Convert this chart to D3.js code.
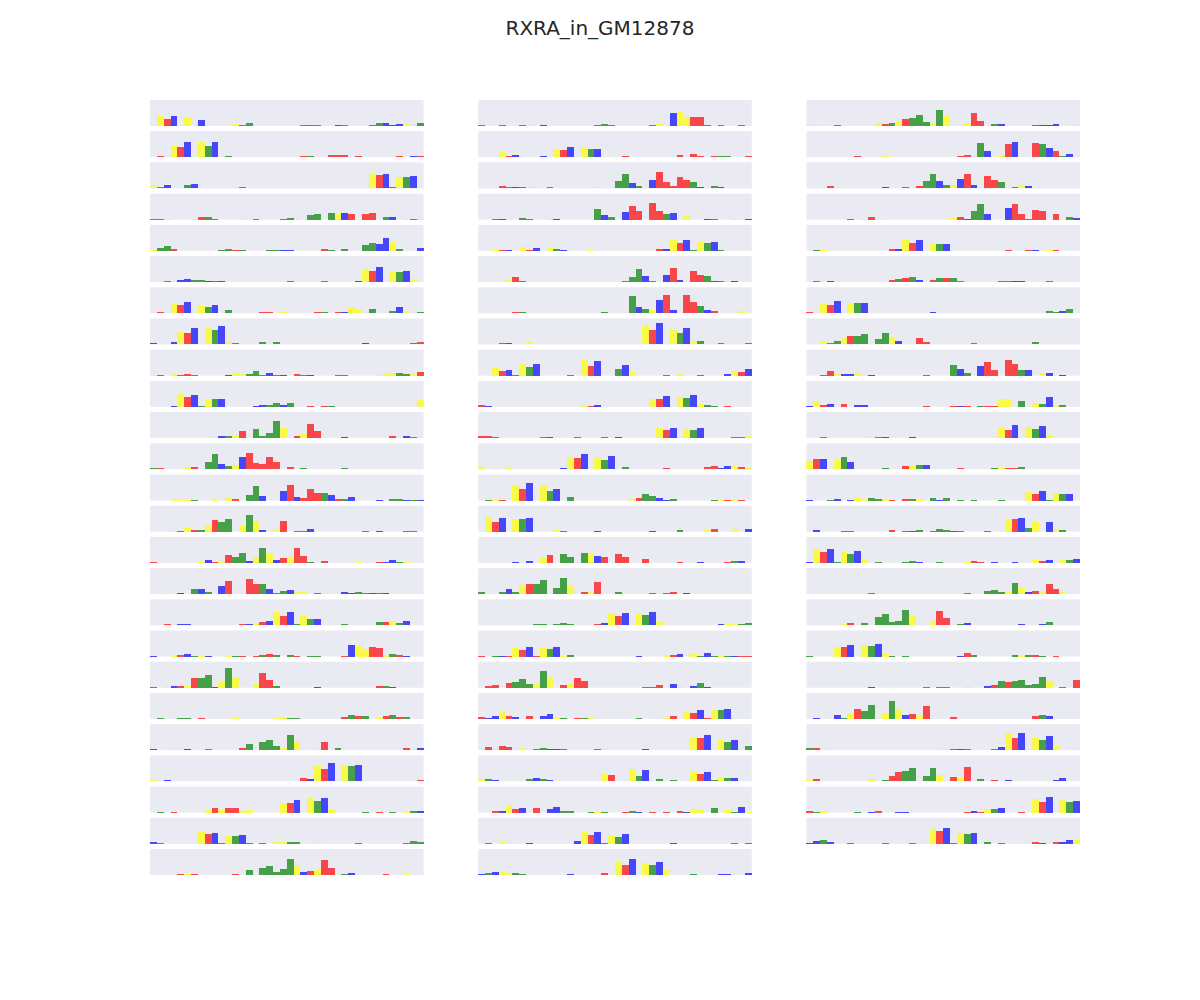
<!DOCTYPE html>
<html>
<head>
<meta charset="utf-8">
<script src="https://cdn.jsdelivr.net/npm/d3@7"></script>
<style>
  html, body { margin: 0; padding: 0; background: #ffffff; }
  svg { display: block; }
</style>
</head>
<body>
<div id="chart"></div>
<script>
// ---------------- DATA ----------------
const title = "RXRA_in_GM12878";
const positions = d3.range(40);
const baseColors = { A: "green", C: "blue", G: "yellow", T: "red" };

// column 1 (25 motifs): base per position ('.' = none) and height
const col1Bases = [
  ".GTC.G.C....GAA.......AAT..CT...AACCCGGA",
  ".T.GTC.GAC.A..........TA..TTT.T.....T.CT",
  "GTC..AC.....GT..................GTCAGAC.",
  "AAG...GTAT...G.A...TAG.AA.AGCT.TT.AC.GAG",
  "GAAT......AATA...AACC....TA.A..AACCGA..C",
  "..T.CCAACAC.........A....T....CGTC.GACG.",
  ".T.GTC.GAC.A....TT.G....TA.TCGG.A..ACG.A",
  "C..CGTC.GACGA...A.A............C......AT",
  "GA.GTTT....CGGAAACAC.TTC...TA....GGGAAGT",
  "...CGTCAGAC....CCAACA..T.TA............G",
  ".........GCAGT.AAAAG.TGTT...C......TGCAG",
  "AT...GT.AACAGCTTTTT.T.A.....A...........",
  "...GGGA..G.GT.AAC..CTCTTTACTAC...C.AACAC",
  "...GAGTAGTAA.GAGC.GT.AAC.......T.C...AA.",
  "T......GCTGTAACGAGCTGTTA.T....G..TCCAG..",
  "..G.C.ACA.CT..TTACTACGG.A...CCAACAC.....",
  "..T.CC.......TCGTCGTCAGAC...A....ATGAC..",
  "C..GTCAGC..GAT.TATA.AT.AA...TCGGTTGATC..",
  "A.GCTGTAACGAG..GTTA.....C........TAC....",
  ".A..AA.T....G.....GGAA......TATA.GTATA..",
  "C..G.C..A....TA.AAAGAG..GT.A.........TGC",
  "G.C...................TCGTC.GAC........T",
  ".A.T....GTGTTGG....GTC.GACG....A.T.A.GAC",
  "CT.....GTCAGACA.A.GGAA..G.....T......TAA",
  "....TGT.....T.A.AAAAAGCTGTT.AC....T..G.."
];
const col1Heights = [
  [0,10,7,10,0,9,0,6,0,0, 0,0,2,1,3,0,0,0,0,0, 0,0,1,1,1,0,0,1,1,0, 0,0,1,3,3,1,2,3,1,3],
  [0,1,0,11,10,15,0,15,11,15, 0,1,0,0,0,0,0,0,0,0, 0,0,1,1,0,0,2,2,2,0, 1,0,0,0,0,0,1,0,1,1],
  [3,1,3,0,0,3,4,0,0,0, 0,0,1.5,1.5,0,0,0,0,0,0, 0,0,0,0,0,0,0,0,0,0, 0,0,14,13,14,1,11,11,12,0],
  [1,1,1,0,0,0,1,3,3,1, 0,0,0,1,0,1,0,0,0,1, 2,1,0,5,6,0,7,6,7,6, 0,6,7,0,3,3,0,1,1,1],
  [2,3,5,2,0,0,0,0,0,0, 1,2,1,1,0,0,0,1,1,1, 1,0,0,0,0,2,1,0,2,0, 0,6,8,7,13,9,2,0,0,3],
  [0,0,1,0,2,3,2,2,1,1, 1,0,0,0,0,0,0,0,0,0, 1,0,0,0,0,1,0,0,0,0, 1,13,11,15,0,10,10,11,3,0],
  [0,1,0,9,8,11,0,7,6,8, 0,3,0,0,0,0,1,1,0,1, 0,0,0,0,1,1,0,1,1,6, 4,0,4,0,0,2,6,2,0,1],
  [1,0,0,2,12,11,16,0,16,14, 18,3,1,0,0,0,2,0,2,0, 0,0,0,0,0,0,0,0,0,0, 0,1,0,0,0,0,0,0,1,2],
  [1,1,0,3,1,2,1,0,0,0, 0,1,3,2,2,5,1,3,1,1, 0,2,1,1,0,0,0,1,1,0, 0,0,0,1,3,3,3,2,3,4],
  [0,0,0,1,13,10,12,1,8,8, 8,0,0,0,0,1,2,2,4,2, 4,0,0,1,0,1,1,0,0,0, 0,0,0,0,0,0,0,0,0,7],
  [0,0,0,0,0,0,0,0,0,1, 2,2,3,7,0,9,2,5,17,10, 0,2,4,14,7,0,0,0,1,0, 0,0,0,0,0,2,1,2,1,1],
  [1,1,0,0,0,2,2,0,7,15, 5,3,4,12,16,6,5,12,7,0, 2,0,1,0,0,0,0,0,1,0, 0,0,0,0,0,0,0,0,0,0],
  [0,0,0,1,1,1,1,0,0,1, 0,3,2,0,6,14,5,0,0,10, 15,4,3,12,8,8,6,2,2,4, 0,0,0,1,0,2,2,1,1,1],
  [0,0,0,1,1,4,2,2,6,12, 10,13,0,6,17,11,2,0,3,11, 0,1,1,3,0,0,0,0,0,0, 0,1,0,1,0,0,0,1,1,0],
  [1,0,0,0,0,0,0,2,3,1, 2,8,6,10,2,5,15,10,3,5, 6,15,7,1,0,2,0,0,0,0, 1,0,0,1,1,3,1,1,0,0],
  [0,0,1,0,1,0,5,5,2,0, 8,13,0,0,15,10,10,5,1,3, 4,3,2,0,1,0,0,0,2,1, 2,1,1,1,1,0,0,0,0,0],
  [0,0,1,0,1,1,0,0,0,0, 0,0,0,1,1,2,3,4,13,9, 13,1,9,6,6,0,0,0,1,0, 0,0,0,3,3,4,2,4,0,0],
  [1,0,0,2,2,3,1,1,1,0, 0,1,1,1,0,1,2,3,2,0, 2,1,0,1,1,0,0,0,1,12, 12,8,10,9,2,3,2,1,0,0],
  [1,0,1,2,2,2,10,10,13,1, 6,20,11,0,0,4,15,8,2,0, 0,0,0,0,1,0,0,0,0,0, 0,0,0,2,2,1,0,0,0,0],
  [0,1,0,0,1,1,0,1,0,0, 0,0,1,0,0,0,0,0,1,2, 1,1,0,0,0,0,0,0,2,4, 3,3,0,2,3,4,2,2,0,0],
  [1,0,0,1,0,1,0,0,1,0, 0,0,0,2,6,0,8,10,4,2, 15,9,0,0,1,8,0,2,0,0, 0,0,0,0,0,0,0,2,1,2],
  [1,0,1,0,0,0,0,0,0,0, 0,0,0,0,0,0,0,0,0,0, 0,0,3,2,15,12,18,0,15,15, 16,0,0,0,0,0,0,0,0,1],
  [0,1,0,1,0,0,0,0,3,5, 3,5,5,2,3,0,0,0,0,10, 10,13,0,15,12,15,3,0,0,0, 0,1,0,1,0,1,0,1,2,2],
  [2,1,0,0,0,0,0,12,10,11, 1,8,8,9,1,0,1,0,2,2, 2,2,0,0,1,0,0,0,0,0, 1,0,0,0,0,0,0,1,3,2],
  [0,0,0,0,1,1,1,0,0,0, 0,0,1,0,5,0,7,9,3,6, 16,10,3,4,5,15,7,0,1,2, 0,0,0,0,1,0,0,1,0,0]
];

// column 2 (25 motifs)
const col2Bases = [
  "T..A..TG.C.......TAT.....AG.CGGTTA.T..T.",
  "...GTC...C.GTC.GAC...T.......T.TT.TAA..T",
  "...TACTGG.A......G..AACA.CTTTTTAC.AC....",
  "..ACG.AA..GC.....ACA.CTT.TTAC.G..CT..G.C",
  "..GTC.GTC.GAC...G.........TCGTCAGACA....",
  "....GTA........G.....TAACT.CTCGTTACAGC..",
  ".....TA...........A...ACAGCTC.TTACT...G.",
  "...AC..G................GTC.GACGA..T...A",
  "..GTCTGAC....T.GTC..ACG....A.G..T...CGTC",
  "TC.............GTC.......GTC.GACGAA.T...",
  "TTA......AC...A...T.C.....GTC.GAC....TAG",
  "G...G.......CGTC.GAC.A.....T.....TTCCGTG",
  ".AGT.GTC.GAC.A........GTAACCA.....AGTGT.",
  ".GTC.GAC...GA....C.......C...A...GT..G.C",
  ".....C.C.GT.AA.AGCT.TT..T....T..C...TAC.",
  "AG.ACAGTAA.AAG.TGT..A....T.TT.C.........",
  "........AA.AAA...TCGTC.GACG........CGGAA",
  "T.ACTGTCTGACGA.........C...GTC.GACAGACTT",
  ".TT.TAAAGAG.TGTT........TTT.CG.CAC......",
  "TCCGTC.T.CCGA.TAG......A...GT.GTCTGAC...",
  ".TGTT.G.AACCT....AG.....C......GTC.GAC.A",
  "GAC....ACAC.......GT..GAC.A.A..GTCAGAC..",
  "..TCGTC.T.CCAA..AGA..TAC.T.T.TCGG.A.GACG",
  ".T.G...C......CGTCAGAC......C........A.A",
  "CACGGAA......C....T.GTC.GACG...A...CC..C"
];
const col2Heights = [
  [1,0,0,1,0,0,1,1,0,1, 0,0,0,0,0,0,0,1,2,1, 0,0,0,0,0,1,2,0,13,14, 9,9,9,1,0,1,0,0,1,0],
  [0,0,0,5,1,2,0,0,0,1, 0,8,7,10,0,9,8,8,0,0, 0,1,0,0,0,0,0,0,0,2, 0,3,1,0,1,1,1,0,0,1],
  [0,0,0,2,1,1,1,1,1,0, 1,0,0,0,0,0,0,1,0,0, 7,14,5,2,0,8,16,6,2,11, 8,6,1,0,2,1,0,0,0,0],
  [0,0,1,1,1,0,2,1,0,0, 1,1,0,0,0,0,0,11,5,3, 0,8,14,9,0,17,9,6,7,0, 5,0,0,1,1,0,0,1,0,1],
  [0,0,1,1,1,0,4,1,3,0, 3,2,1,0,0,0,1,0,0,0, 0,0,0,0,0,0,2,2,12,8, 11,1,9,8,9,1,0,0,0,0],
  [0,0,0,0,2,5,1,0,0,0, 0,0,0,0,0,1,0,0,0,0, 0,1,5,13,6,1,0,7,14,2, 1,11,7,6,1,1,1,1,0,0],
  [0,0,0,0,0,1,1,0,0,0, 0,0,0,0,0,0,0,0,1,0, 0,0,17,6,4,3,13,18,3,0, 18,11,7,3,2,0,0,0,2,0],
  [0,0,0,1,1,0,0,2,0,0, 0,0,0,0,0,0,0,0,0,0, 0,0,0,0,19,14,21,0,14,11, 16,3,3,0,0,1,0,0,0,1],
  [0,0,8,5,6,1,12,9,12,0, 0,0,0,1,0,16,10,15,0,0, 7,11,4,0,0,0,0,1,0,2, 0,0,1,0,0,0,2,5,4,7],
  [2,1,0,0,0,0,0,0,0,0, 0,0,0,0,0,2,1,2,0,0, 0,0,0,0,0,8,8,11,0,10, 9,12,3,2,1,0,1,0,0,0],
  [2,2,1,0,0,0,0,0,0,1, 1,0,0,0,1,0,0,0,1,0, 1,0,0,0,0,0,10,8,10,0, 9,8,10,0,0,0,0,1,1,2],
  [2,0,0,0,1,0,0,0,0,0, 0,0,1,12,11,15,0,12,9,13, 0,2,0,0,0,0,0,1,0,0, 0,0,0,2,3,1,3,3,2,1],
  [0,1,1,1,0,15,12,17,0,14, 10,12,0,4,0,0,0,0,0,0, 0,0,2,3,7,5,3,1,2,0, 0,0,0,0,1,1,1,1,1,0],
  [0,14,10,14,0,13,13,14,0,0, 0,2,1,0,0,0,0,1,0,0, 0,0,0,0,0,1,0,0,0,2, 0,0,0,3,3,0,0,3,0,3],
  [0,0,0,0,0,1,0,2,0,5, 8,0,9,6,0,10,10,7,6,0, 9,6,0,0,4,0,0,0,0,1, 0,0,1,0,0,0,1,2,2,0],
  [2,1,0,2,5,2,9,10,10,14, 0,6,16,9,0,2,3,12,0,0, 2,0,0,0,0,1,0,1,2,0, 1,0,0,0,0,0,0,0,0,0],
  [0,0,0,0,0,0,0,0,1,1, 0,1,2,1,0,0,0,1,2,12, 9,12,0,11,10,13,3,0,0,0, 0,0,0,0,0,1,2,1,1,2],
  [1,0,1,1,1,9,7,10,1,9, 8,10,1,2,0,0,0,0,0,0, 0,0,0,1,0,0,0,2,2,3, 0,3,1,4,1,1,1,1,1,1],
  [0,2,3,0,5,6,9,4,4,17, 11,0,3,4,10,7,0,0,0,0, 0,0,0,0,1,1,3,0,4,1, 0,2,5,1,0,0,0,0,0,0],
  [2,1,3,8,3,2,0,3,0,3, 5,1,1,0,1,1,1,0,0,0, 0,0,0,1,0,0,0,1,3,0, 7,6,9,1,9,9,10,0,0,0],
  [0,3,1,4,3,0,2,0,1,2, 1,1,1,0,0,0,0,1,1,0, 0,0,0,0,1,0,0,0,0,0, 0,12,12,15,0,10,8,10,0,4],
  [2,2,1,0,0,0,0,2,3,2, 1,0,0,0,0,0,0,0,7,6, 0,0,12,5,11,0,2,0,1,0, 0,10,7,9,1,4,3,3,0,0],
  [0,0,2,2,8,4,5,0,5,0, 4,6,2,2,0,0,1,1,1,0, 0,1,2,1,0,1,0,1,0,2, 1,4,4,0,5,0,3,1,6,1],
  [0,1,0,2,0,0,0,1,0,0, 0,0,0,0,3,12,9,12,1,9, 7,10,0,0,0,0,0,0,1,0, 0,0,0,0,0,0,0,1,0,1],
  [1,2,3,3,1,2,1,0,0,0, 0,0,0,1,0,0,0,0,2,0, 13,10,16,0,12,10,13,5,0,0, 0,1,0,0,0,1,1,0,0,2]
];

// column 3 (24 motifs)
const col3Bases = [
  "G.G.T.....GTAGTAAAGAG..GTT.AC....TCCC..G",
  ".......T...G..........TT.AC.GTC.TTACTAC",
  "...TG......C..A.TAACAGCTCGTTA.AGC.......",
  "......T.GTG..........GTCAAC..CTTTTT.T.AC",
  ".AG.........TCGTC.GAC........T..TC.GT...",
  ".A.CG.......TATAC.TATAT.....TTCC...T....",
  "T.GTC.GAC.........C................AACA.",
  "..GTAGTAA.AAGC..TT......T........A......",
  "..ATGCCGGC.......A...ACA.CTT.TTAC.GC.C..",
  "CGTC.T.CC........T...TCT.ATTGG.A.GACGA..",
  "..A......GTC...C............GTC.GACG....",
  "GTC.GAC....A..TGAC....T....AGTTA........",
  "C..AC.CGGAAGT.TAG.ACA.A.A...A...GTCAGAC.",
  ".C...AT.....T.ACA.AAACA...A..GTCAG.CGA..",
  "CGTCAGACG.A...AAC..A...GTT.C..C..GTC.GAC",
  ".........A.............T..AAAGAGCTGTTG..",
  ".....GT.A.AAAAAG..GTT.AC.......C..CA....",
  "A...GTC.GACGA.A.......CTA.....AGATA.T...",
  ".........C.......T.TT..G..CTATAAAAAG.T.T",
  ".C..CAGTAA.GAGCTGT...T...........TAC....",
  "ATG.................GTCT...TCGTC.GACG..G",
  "GT.......G.ATTAA.AAG.TGT.A.T.C......CC..",
  "TAG....A.CT..CC........TCTGAC..T.GTC.GAC",
  "CCAC..A....A...AG.GTCAGAC.A.A...GTC.TCCG"
];
const col3Heights = [
  [1,0,1,0,1,0,0,0,0,0, 3,2,3,5,7,8,11,4,3,16, 10,0,0,3,13,5,0,2,2,0, 0,0,0,1,1,1,2,0,0,1],
  [0,0,0,0,0,0,0,1,0,0, 0,1,0,0,0,0,0,0,0,0, 0,0,1,2,0,14,6,0,2,13, 15,1,0,14,13,9,6,1,3,4],
  [0,0,0,2,1,0,0,0,0,0, 0,1,0,0,1,0,2,7,14,7, 3,3,9,14,3,1,12,8,6,0, 1,2,2,0,0,0,0,0,0,0],
  [0,0,0,0,0,0,1,0,1,3, 1,0,0,0,0,0,0,0,0,0, 0,2,3,1,9,16,6,0,0,12, 16,6,1,10,9,0,6,0,3,2],
  [0,1,1,0,0,0,0,0,0,0, 0,0,2,2,11,8,11,0,8,7, 7,0,0,0,0,0,0,0,0,1, 0,0,1,1,0,1,1,0,0,0],
  [0,1,0,1,1,0,0,0,0,0, 0,0,2,3,4,5,2,0,2,4, 4,4,1,0,0,0,0,0,1,1, 1,1,0,0,0,1,0,0,0,0],
  [1,0,9,8,12,0,10,10,10,0, 0,0,0,0,0,0,0,0,1,0, 0,0,0,0,0,0,0,0,0,0, 0,0,0,0,0,2,1,2,4,0],
  [0,0,2,1,3,6,8,8,10,0, 5,11,7,3,0,0,6,2,0,0, 0,0,0,0,1,0,0,0,0,0, 0,0,0,2,0,0,0,0,0,0],
  [0,0,1,5,2,2,2,3,1,1, 0,0,0,0,0,0,0,1,0,0, 0,11,7,3,0,10,14,6,0,16, 12,6,6,0,3,3,0,1,0,0],
  [1,6,2,3,0,3,0,2,2,0, 0,0,0,0,0,0,0,1,0,0, 0,1,1,1,0,1,1,1,8,8, 0,6,0,4,3,10,2,2,0,0],
  [0,0,1,0,0,0,0,0,0,1, 1,1,0,0,0,1,0,0,0,0, 0,0,0,0,0,0,0,0,11,8, 13,0,11,9,12,3,0,0,0,0],
  [8,10,10,0,9,12,7,0,0,0, 0,1,0,0,3,4,4,4,0,0, 0,0,1,0,0,0,0,1,1,1, 1,2,0,0,0,0,0,0,0,0],
  [1,0,0,1,2,0,1,3,1,3, 2,1,1,0,2,2,1,0,3,1, 3,0,1,0,1,0,0,0,1,0, 0,0,9,7,10,1,8,7,7,0],
  [0,2,0,0,0,1,1,0,0,0, 0,0,2,0,1,1,2,0,1,3, 2,1,1,0,0,0,1,0,0,13, 13,14,4,10,0,10,3,2,0,0],
  [1,13,11,14,1,11,9,12,3,0, 1,0,0,0,1,2,1,0,0,1, 0,0,0,1,2,1,0,1,0,0, 1,0,0,3,2,3,0,3,3,4],
  [0,0,0,0,0,0,0,0,0,1, 0,0,0,0,0,0,0,0,0,0, 0,0,0,1,0,0,3,4,2,2, 11,6,2,3,3,10,5,2,0,0],
  [0,0,0,0,0,1,2,0,2,0, 8,11,3,4,15,10,0,0,4,14, 7,0,1,2,0,0,0,0,0,0, 0,1,0,0,1,3,0,0,0,0],
  [1,0,0,0,10,10,12,0,12,11, 13,3,1,0,1,0,0,0,0,0, 0,0,1,4,2,0,0,0,0,0, 2,1,2,2,1,0,1,0,0,0],
  [0,0,0,0,0,0,0,0,0,1, 0,0,0,0,0,0,0,1,0,1, 1,0,0,1,0,0,2,3,7,6, 7,8,3,4,11,7,0,1,0,8],
  [0,1,0,0,4,1,6,10,8,14, 0,6,18,10,4,5,4,13,0,0, 0,2,0,0,0,0,0,0,0,0, 0,0,0,3,4,3,0,0,0,0],
  [2,2,1,0,0,0,0,0,0,0, 0,0,0,0,0,0,0,0,0,0, 1,1,1,1,0,0,0,1,3,17, 12,17,0,12,10,14,4,0,0,1],
  [1,2,0,0,0,0,0,0,0,2, 0,1,5,9,10,13,0,5,13,6, 0,4,3,14,0,2,0,1,0,1, 0,0,0,0,0,0,1,3,0,0],
  [2,1,2,0,0,0,0,1,0,1, 2,0,0,1,1,0,0,0,0,0, 0,0,0,1,2,1,4,4,5,0, 0,1,0,14,11,16,0,13,11,12],
  [1,3,4,2,0,0,1,0,0,0, 0,1,0,0,0,1,1,0,15,13, 16,1,11,10,11,0,2,0,1,0, 0,0,1,2,1,0,2,2,4,4]
];
const yMax = 26;

// ---------------- LAYOUT ----------------
const figW = 1200, figH = 1000;
const gridLeft = 150, gridRight = 1080, gridTop = 100, gridBottom = 875;
const nRows = 25, nCols = 3, wSpace = 0.2, hSpace = 0.2;
const panelW = (gridRight - gridLeft) / (nCols + (nCols - 1) * wSpace);
const panelH = (gridBottom - gridTop) / (nRows + (nRows - 1) * hSpace);

const svg = d3.select("#chart").append("svg")
  .attr("width", figW).attr("height", figH);

svg.append("text")
  .attr("x", figW / 2).attr("y", 35)
  .attr("text-anchor", "middle")
  .style("font-family", "'DejaVu Sans', sans-serif")
  .style("font-size", "20px")
  .style("fill", "#262626")
  .text(title);

const xScale = d3.scaleBand().domain(positions).range([0, panelW]).paddingInner(0).paddingOuter(0);
const yScale = d3.scaleLinear().domain([0, yMax]).range([panelH, 0]);

const columns = [
  { bases: col1Bases, heights: col1Heights },
  { bases: col2Bases, heights: col2Heights },
  { bases: col3Bases, heights: col3Heights }
];

columns.forEach((col, ci) => {
  const x0 = gridLeft + ci * panelW * (1 + wSpace);
  col.bases.forEach((seq, ri) => {
    const y0 = gridTop + ri * panelH * (1 + hSpace);
    const g = svg.append("g").attr("transform", `translate(${x0},${y0})`);
    g.append("rect")
      .attr("x", 0).attr("y", 0)
      .attr("width", panelW).attr("height", panelH)
      .attr("fill", "#EAEAF2");
    const hs = col.heights[ri];
    const bars = positions
      .map(i => ({ i, base: seq[i], v: hs[i] || 0 }))
      .filter(d => d.base && d.base !== "." && d.v > 0);
    g.selectAll("rect.bar").data(bars).enter().append("rect")
      .attr("class", "bar")
      .attr("x", d => xScale(d.i))
      .attr("width", xScale.bandwidth())
      .attr("y", d => yScale(d.v))
      .attr("height", d => yScale(0) - yScale(d.v))
      .attr("fill", d => baseColors[d.base])
      .attr("fill-opacity", 0.7)
      .attr("shape-rendering", "crispEdges");
  });
});
</script>
</body>
</html>
